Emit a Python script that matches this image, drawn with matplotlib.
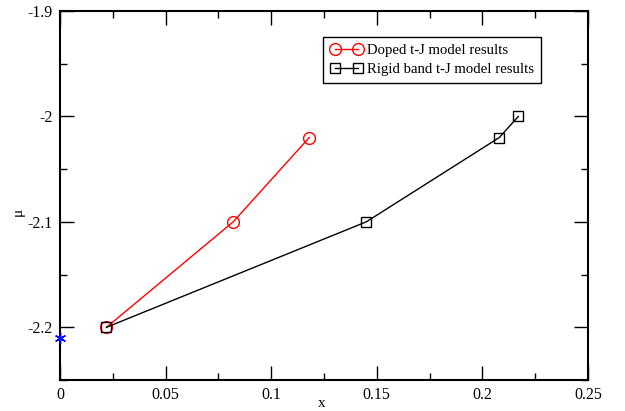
import matplotlib
matplotlib.use("Agg")
import matplotlib.pyplot as plt
from matplotlib.ticker import MultipleLocator, FuncFormatter

plt.rcParams['font.family'] = ['Liberation Serif', 'DejaVu Serif']
plt.rcParams['axes.unicode_minus'] = False

# Doped t-J model
doped_x = [0.022, 0.082, 0.118]
doped_mu = [-2.2, -2.1, -2.02]

# Rigid band t-J model
rigid_x = [0.022, 0.145, 0.208, 0.217]
rigid_mu = [-2.2, -2.1, -2.02, -2.0]

# single point on the axis
star_x = [0.0]
star_mu = [-2.21]

fig = plt.figure(figsize=(6.25, 4.11), dpi=100)
ax = fig.add_axes([0.096, 0.0754, 0.8448, 0.8978])

ax.plot(doped_x, doped_mu, color='red', lw=1, marker='o', ms=8.5,
        mfc='none', mec='red', mew=1, label='Doped t-J model results')
ax.plot(rigid_x, rigid_mu, color='black', lw=1, marker='s', ms=7,
        mfc='none', mec='black', mew=1, label='Rigid band t-J model results')
ax.plot(star_x, star_mu, ls='none', marker=(6, 2, 0), color='blue', ms=8,
        mew=1, clip_on=False, zorder=5)

ax.set_xlim(0, 0.25)
ax.set_ylim(-2.25, -1.9)

ax.xaxis.set_major_locator(MultipleLocator(0.05))
ax.xaxis.set_minor_locator(MultipleLocator(0.025))
ax.yaxis.set_major_locator(MultipleLocator(0.1))
ax.yaxis.set_minor_locator(MultipleLocator(0.05))
fmt = FuncFormatter(lambda v, p: ('%g' % round(v, 4)))
ax.xaxis.set_major_formatter(fmt)
ax.yaxis.set_major_formatter(fmt)

ax.tick_params(which='both', direction='in', top=True, right=True,
               labelsize=11.5, width=1)
ax.tick_params(which='major', length=10, pad=5)
ax.tick_params(which='minor', length=5)
for s in ax.spines.values():
    s.set_linewidth(1.5)

# axis labels placed by hand, the figure is tight
fig.text(322 / 625, 1 - 403 / 411, 'x', fontsize=11, ha='center', va='center')
fig.text(18 / 625, 1 - 212 / 411, 'μ', fontsize=11, ha='center', va='center',
         rotation=90)

leg = ax.legend(loc='upper left', bbox_to_anchor=(0.499, 0.929), numpoints=2,
                fontsize=10.6, fancybox=False, framealpha=1, edgecolor='black',
                handlelength=2.2, handletextpad=0.3, borderpad=0.45,
                labelspacing=0.38, borderaxespad=0)
leg.get_frame().set_linewidth(1)

fig.savefig('out.png', dpi=100)
